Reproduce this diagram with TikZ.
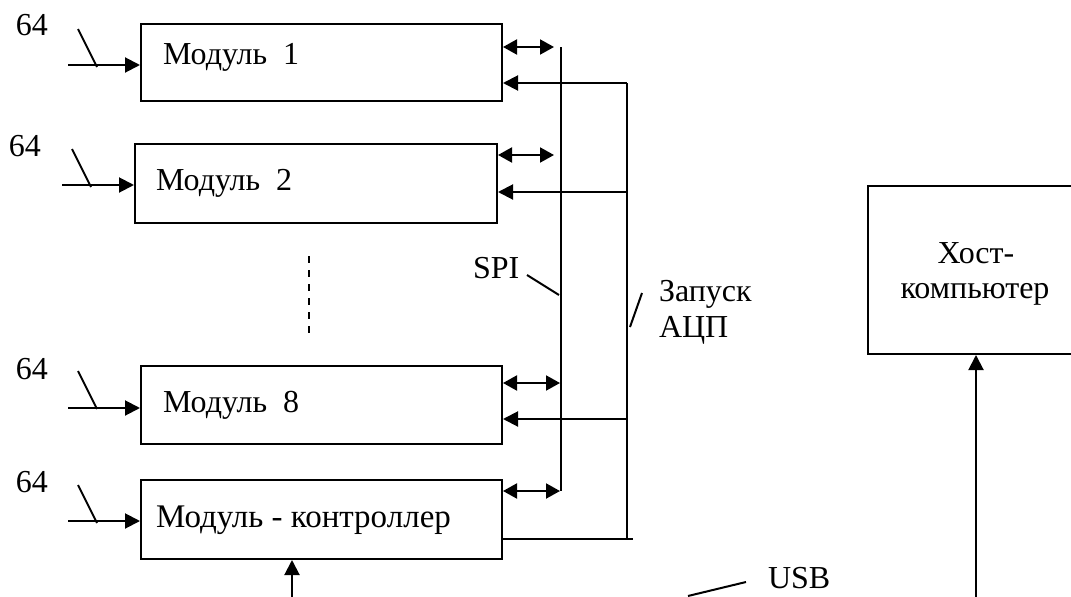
\documentclass[tikz,border=0pt]{standalone}
\usepackage{fontspec}
\setmainfont{Liberation Serif}
\usetikzlibrary{arrows.meta}
\begin{document}
\begin{tikzpicture}[x=1pt,y=-1pt,
  line width=2pt,
  box/.style={draw, line width=2pt, rectangle, inner sep=0pt, anchor=north west},
  modtxt/.style={anchor=base west, inner sep=0pt, font=\fontsize{32}{36}\selectfont},
  lbl/.style={anchor=base west, inner sep=0pt, font=\fontsize{32}{36}\selectfont},
  num/.style={anchor=center, inner sep=0pt, font=\fontsize{32}{36}\selectfont},
  tip/.style={-{Triangle[length=15pt,width=15pt]}},
  dtip/.style={{Triangle[length=14pt,width=15pt]}-{Triangle[length=14pt,width=15pt]}},
  slash/.style={line width=2pt},
  dots/.style={dash pattern=on 7pt off 7pt}
]
\useasboundingbox (0,0) rectangle (1071,597);

% module boxes
\node[box, minimum width=361pt, minimum height=77pt] (m1) at (140,23) {};
\node[box, minimum width=362pt, minimum height=79pt] (m2) at (134,143) {};
\node[box, minimum width=361pt, minimum height=78pt] (m8) at (140,365) {};
\node[box, minimum width=361pt, minimum height=79pt] (mc) at (140,479) {};
\node[box, minimum width=206pt, minimum height=168pt] (host) at (867,185) {};

% module texts
\node[modtxt] (t1) at (162,64) {Модуль\ \ 1};
\node[modtxt] (t2) at (155,190) {Модуль\ \ 2};
\node[modtxt] (t8) at (162,412) {Модуль\ \ 8};
\node[modtxt, font=\fontsize{33}{36}\selectfont] (tc) at (155,527) {Модуль - контроллер};
\node[lbl, anchor=base] (th1) at (976,263) {Хост-};
\node[lbl, anchor=base] (th2) at (975,298) {компьютер};

% input labels
\node[num] (n1) at (32,25) {64};
\node[num] (n2) at (25,146) {64};
\node[num] (n8) at (32,369) {64};
\node[num] (nc) at (32,482) {64};

% input arrows
\coordinate (i1) at (68,65);
\coordinate (i2) at (62,185);
\coordinate (i8) at (68,408);
\coordinate (ic) at (68,521);
\draw[tip] (i1) -- (i1 -| m1.west);
\draw[tip] (i2) -- (i2 -| m2.west);
\draw[tip] (i8) -- (i8 -| m8.west);
\draw[tip] (ic) -- (ic -| mc.west);
\coordinate (s1a) at (78,29);  \coordinate (s1b) at (97,67);
\coordinate (s2a) at (72,149); \coordinate (s2b) at (91,187);
\coordinate (s8a) at (78,371); \coordinate (s8b) at (97,409);
\coordinate (sca) at (78,485); \coordinate (scb) at (97,523);
\draw[slash] (s1a) -- (s1b);
\draw[slash] (s2a) -- (s2b);
\draw[slash] (s8a) -- (s8b);
\draw[slash] (sca) -- (scb);

% dots between modules
\coordinate (d1) at (309,256);
\coordinate (d2) at (309,333);
\draw[dots] (d1) -- (d2);

% SPI bus
\coordinate (spiT) at (561,47);
\coordinate (spiB) at (561,491);
\draw (spiT) -- (spiB);
\coordinate (b1) at (554,47);
\coordinate (b2) at (554,155);
\coordinate (b8) at (560,383);
\coordinate (bc) at (560,491);
\draw[dtip] (m1.east |- b1) -- (b1);
\draw[dtip] (m2.east |- b2) -- (b2);
\draw[dtip] (m8.east |- b8) -- (b8);
\draw[dtip] (mc.east |- bc) -- (bc);

% ADC start line
\coordinate (trT) at (627,83);
\coordinate (tr2) at (627,192);
\coordinate (tr8) at (627,419);
\coordinate (trB) at (627,539);
\coordinate (trE) at (633,539);
\draw (trT) -- (trB);
\draw (mc.east |- trB) -- (trE);
\draw[tip] (trT) -- (trT -| m1.east);
\draw[tip] (tr2) -- (tr2 -| m2.east);
\draw[tip] (tr8) -- (tr8 -| m8.east);

% labels SPI / Zapusk ACP
\coordinate (spa) at (527,275); \coordinate (spb) at (559,295);
\draw[slash] (spa) -- (spb);
\node[lbl] (spi) at (472,278) {SPI};
\coordinate (zpa) at (642,293); \coordinate (zpb) at (630,327);
\draw[slash] (zpa) -- (zpb);
\node[lbl] (zp1) at (658,301) {Запуск};
\node[lbl] (zp2) at (658,337) {АЦП};

% USB
\coordinate (ua) at (688,596); \coordinate (ub) at (746,582);
\draw[slash] (ua) -- (ub);
\node[lbl] (usb) at (767,588) {USB};

% bottom arrows
\coordinate (cin) at (292,597);
\draw[tip] (cin) -- (cin |- mc.south);
\coordinate (hin) at (976,597);
\draw[tip] (hin) -- (hin |- host.south);
\end{tikzpicture}
\end{document}
